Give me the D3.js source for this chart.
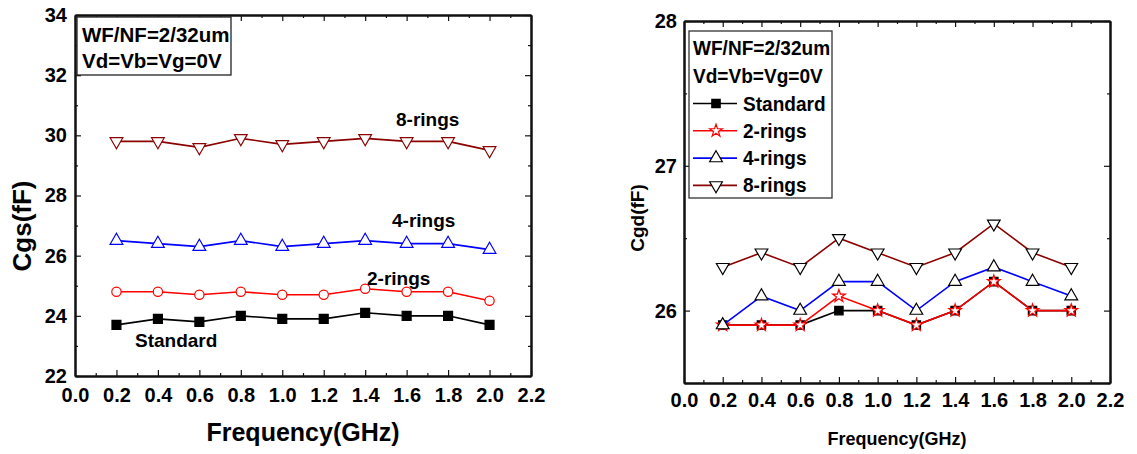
<!DOCTYPE html>
<html>
<head>
<meta charset="utf-8">
<script src="https://cdn.jsdelivr.net/npm/d3@7"></script>
<style>
  html, body { margin: 0; padding: 0; background: #fff; }
  svg text { font-family: "Liberation Sans", Arial, sans-serif; font-weight: bold; fill: #000; }
</style>
</head>
<body>
<svg id="chart" width="1137" height="454"></svg>
<script>
// Frequency points (GHz)
const freq = [0.2, 0.4, 0.6, 0.8, 1.0, 1.2, 1.4, 1.6, 1.8, 2.0];

// Cgs (fF)
const cgsStandard = [23.7, 23.9, 23.8, 24.0, 23.9, 23.9, 24.1, 24.0, 24.0, 23.7];
const cgs2Rings   = [24.8, 24.8, 24.7, 24.8, 24.7, 24.7, 24.9, 24.8, 24.8, 24.5];
const cgs4Rings   = [26.5, 26.4, 26.3, 26.5, 26.3, 26.4, 26.5, 26.4, 26.4, 26.2];
const cgs8Rings   = [29.8, 29.8, 29.6, 29.9, 29.7, 29.8, 29.9, 29.8, 29.8, 29.5];

// Cgd (fF)
const cgdStandard = [25.9, 25.9, 25.9, 26.0, 26.0, 25.9, 26.0, 26.2, 26.0, 26.0];
const cgd2Rings   = [25.9, 25.9, 25.9, 26.1, 26.0, 25.9, 26.0, 26.2, 26.0, 26.0];
const cgd4Rings   = [25.9, 26.1, 26.0, 26.2, 26.2, 26.0, 26.2, 26.3, 26.2, 26.1];
const cgd8Rings   = [26.3, 26.4, 26.3, 26.5, 26.4, 26.3, 26.4, 26.6, 26.4, 26.3];

// Axis ticks
const xTicks = [0.0, 0.2, 0.4, 0.6, 0.8, 1.0, 1.2, 1.4, 1.6, 1.8, 2.0, 2.2];
const xMinor = d3.range(0.1, 2.2, 0.2);
const cgsTicks = [22, 24, 26, 28, 30, 32, 34];
const cgsMinor = [23, 25, 27, 29, 31, 33];
const cgdTicks = [26, 27, 28];
const cgdMinor = [25.5, 26.5, 27.5];

const seriesNames = ["Standard", "2-rings", "4-rings", "8-rings"];
const notes = ["WF/NF=2/32um", "Vd=Vb=Vg=0V"];

const svg = d3.select("#chart");

function drawFrame(g, x, y, opt) {
  const [x0, x1] = x.range();
  const [y0, y1] = y.range(); // y0 bottom, y1 top
  const fmtX = d3.format(".1f");
  const mk = (axis, tr, vals, size, fmt) => {
    const a = axis.tickValues(vals).tickSize(-size).tickSizeOuter(0).tickPadding(opt.pad);
    a.tickFormat(fmt || "");
    const s = g.append("g").attr("transform", tr).call(a);
    s.selectAll("text").style("font-size", opt.tickFont + "px");
    s.select(".domain").attr("stroke-width", opt.frameW).attr("stroke", "#111");
    s.selectAll(".tick line").attr("stroke-width", 1.2).attr("stroke", "#111");
    return s;
  };
  // bottom
  mk(d3.axisBottom(x), `translate(0,${y0})`, opt.xt, 6, fmtX);
  mk(d3.axisBottom(x), `translate(0,${y0})`, opt.xm, 3);
  // top
  mk(d3.axisTop(x), `translate(0,${y1})`, opt.xt, 6);
  mk(d3.axisTop(x), `translate(0,${y1})`, opt.xm, 3);
  // left
  const l = mk(d3.axisLeft(y).tickPadding(opt.ypad), `translate(${x0},0)`, opt.yt, 6, d3.format("d"));
  l.selectAll("text").attr("x", -opt.ypad);
  mk(d3.axisLeft(y), `translate(${x0},0)`, opt.ym, 3);
  // right
  mk(d3.axisRight(y), `translate(${x1},0)`, opt.yt, 6);
  mk(d3.axisRight(y), `translate(${x1},0)`, opt.ym, 3);
}

function drawSeries(g, x, y, vals, color, sym, size, fill, symStroke, lw) {
  const line = d3.line().x((d, i) => x(freq[i])).y(d => y(d));
  g.append("path").datum(vals).attr("d", line)
    .attr("fill", "none").attr("stroke", color).attr("stroke-width", lw);
  g.selectAll(null).data(vals).enter().append("path")
    .attr("transform", (d, i) => {
      const rot = sym.rot ? " rotate(180)" : "";
      return `translate(${x(freq[i])},${y(d)})${rot}`;
    })
    .attr("d", d3.symbol().type(sym.type).size(size)())
    .attr("fill", fill).attr("stroke", symStroke).attr("stroke-width", 1.2);
}

const SQ = { type: d3.symbolSquare };
const CI = { type: d3.symbolCircle };
const UP = { type: d3.symbolTriangle };
const DN = { type: d3.symbolTriangle, rot: true };
const ST = { type: d3.symbolStar };

const darkRed = "#8b0000";

// ---------- Cgs panel ----------
const xL = d3.scaleLinear().domain([0, 2.2]).range([75, 531]);
const yL = d3.scaleLinear().domain([22, 34]).range([376, 15]);
const gL = svg.append("g");

drawSeries(gL, xL, yL, cgsStandard, "#000", SQ, 80, "#000", "#000", 1.6);
drawSeries(gL, xL, yL, cgs2Rings, "#ff0000", CI, 68, "#fff", "#ff0000", 1.6);
drawSeries(gL, xL, yL, cgs4Rings, "#0000ff", UP, 70, "#fff", "#0000ff", 1.6);
drawSeries(gL, xL, yL, cgs8Rings, darkRed, DN, 70, "#fff", darkRed, 1.6);

drawFrame(gL, xL, yL, { xt: xTicks, xm: xMinor, yt: cgsTicks, ym: cgsMinor, pad: 12, ypad: 8, tickFont: 20, frameW: 2 });

// annotations next to each curve
const labelPos = [[135, 347], [367, 285], [392, 227], [396, 126]];
seriesNames.forEach((n, i) => {
  gL.append("text").attr("x", labelPos[i][0]).attr("y", labelPos[i][1])
    .style("font-size", "19px").text(n);
});

// condition box
gL.append("rect").attr("x", 77).attr("y", 17).attr("width", 154).attr("height", 58)
  .attr("fill", "#fff").attr("stroke", "#222").attr("stroke-width", 1.3);
notes.forEach((t, i) => {
  gL.append("text").attr("x", 82).attr("y", 42 + i * 26).style("font-size", "20.5px").text(t);
});

gL.append("text").attr("x", 303).attr("y", 441).attr("text-anchor", "middle")
  .style("font-size", "25px").text("Frequency(GHz)");
gL.append("text").attr("transform", "translate(31,226) rotate(-90)").attr("text-anchor", "middle")
  .style("font-size", "26px").text("Cgs(fF)");

// ---------- Cgd panel ----------
const xR = d3.scaleLinear().domain([0, 2.2]).range([684, 1110]);
const yR = d3.scaleLinear().domain([25.5, 28]).range([383, 21]);
const gR = svg.append("g");

const rightStyles = [
  { vals: cgdStandard, color: "#000", sym: SQ, size: 70, fill: "#000", st: "#000" },
  { vals: cgd2Rings, color: "#ff0000", sym: ST, size: 50, fill: "#fff", st: "#ff0000" },
  { vals: cgd4Rings, color: "#0000ff", sym: UP, size: 70, fill: "#fff", st: "#000" },
  { vals: cgd8Rings, color: darkRed, sym: DN, size: 70, fill: "#fff", st: "#000" }
];
rightStyles.forEach(s => drawSeries(gR, xR, yR, s.vals, s.color, s.sym, s.size, s.fill, s.st, 1.6));

drawFrame(gR, xR, yR, { xt: xTicks, xm: xMinor, yt: cgdTicks, ym: cgdMinor, pad: 10, ypad: 7, tickFont: 20, frameW: 2 });

// legend
gR.append("rect").attr("x", 689).attr("y", 31).attr("width", 143).attr("height", 167)
  .attr("fill", "#fff").attr("stroke", "#333").attr("stroke-width", 1.3);
notes.forEach((t, i) => {
  gR.append("text").attr("transform", `translate(693,${55 + i * 28}) scale(0.93,1)`)
    .style("font-size", "20.5px").text(t);
});
rightStyles.forEach((s, i) => {
  const cy = 103.5 + i * 27.3;
  gR.append("line").attr("x1", 693).attr("x2", 737).attr("y1", cy).attr("y2", cy)
    .attr("stroke", s.color).attr("stroke-width", 1.6);
  gR.append("path").attr("transform", `translate(716,${cy})${s.sym.rot ? " rotate(180)" : ""}`)
    .attr("d", d3.symbol().type(s.sym.type).size(s.size)())
    .attr("fill", s.fill).attr("stroke", s.st).attr("stroke-width", 1.2);
  gR.append("text").attr("transform", `translate(743,${cy + 7}) scale(0.93,1)`)
    .style("font-size", "20.5px").text(seriesNames[i]);
});

gR.append("text").attr("x", 897).attr("y", 445).attr("text-anchor", "middle")
  .attr("textLength", 139).attr("lengthAdjust", "spacingAndGlyphs")
  .style("font-size", "19px").text("Frequency(GHz)");
gR.append("text").attr("transform", "translate(644,218) rotate(-90)").attr("text-anchor", "middle")
  .style("font-size", "19px").text("Cgd(fF)");
</script>
</body>
</html>
